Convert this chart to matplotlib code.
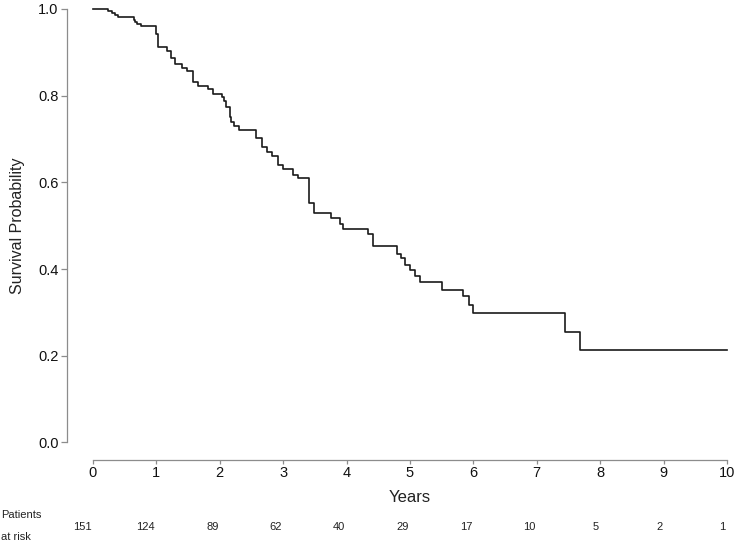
import matplotlib
matplotlib.use("Agg")
import matplotlib.pyplot as plt
import matplotlib.transforms as mtransforms

plt.rcParams['font.family'] = ['Liberation Sans', 'DejaVu Sans']

# Kaplan-Meier step curve
times = [0.0, 0.24, 0.30, 0.34, 0.40, 0.64, 0.67, 0.70, 0.75, 1.00, 1.03,
         1.16, 1.23, 1.30, 1.41, 1.48, 1.57, 1.66, 1.81, 1.90, 2.03, 2.07,
         2.10, 2.16, 2.18, 2.23, 2.31, 2.57, 2.66, 2.74, 2.82, 2.92, 3.00,
         3.16, 3.24, 3.41, 3.49, 3.75, 3.90, 3.95, 4.33, 4.41, 4.80, 4.86,
         4.92, 5.00, 5.08, 5.16, 5.50, 5.83, 5.93, 5.99, 7.44, 7.68, 10.0]
surv = [1.000, 0.995, 0.990, 0.985, 0.981, 0.975, 0.970, 0.965, 0.960, 0.943,
        0.912, 0.904, 0.888, 0.874, 0.864, 0.856, 0.832, 0.822, 0.815, 0.804,
        0.797, 0.787, 0.774, 0.751, 0.740, 0.731, 0.721, 0.702, 0.681, 0.671,
        0.660, 0.641, 0.631, 0.618, 0.610, 0.553, 0.530, 0.517, 0.505, 0.492,
        0.480, 0.453, 0.434, 0.425, 0.409, 0.398, 0.384, 0.371, 0.352, 0.337,
        0.317, 0.298, 0.256, 0.214, 0.214]

risk_years = [0, 1, 2, 3, 4, 5, 6, 7, 8, 9, 10]
at_risk = [151, 124, 89, 62, 40, 29, 17, 10, 5, 2, 1]
y_ticks = [0.0, 0.2, 0.4, 0.6, 0.8, 1.0]

fig = plt.figure(figsize=(7.38, 5.45), dpi=100)
ax = fig.add_axes([0.1260, 0.1881, 0.8591, 0.7954])

ax.step(times, surv, where='post', color='#1a1a1a', lw=1.2, clip_on=False)

ax.set_xlim(0, 10)
ax.set_ylim(0, 1)
ax.set_xticks(risk_years)
ax.set_yticks(y_ticks)
ax.set_yticklabels(["%.1f" % v for v in y_ticks])

grey = '#8c8c8c'
for s in ['top', 'right']:
    ax.spines[s].set_visible(False)
ax.spines['left'].set_position(('outward', 18.7))
ax.spines['bottom'].set_position(('outward', 12.6))
for s in ['left', 'bottom']:
    ax.spines[s].set_color(grey)
    ax.spines[s].set_linewidth(0.9)
ax.tick_params(axis='y', length=4, width=0.9, color=grey, pad=2,
               labelsize=10.5, labelcolor='#111111')
ax.tick_params(axis='x', length=2.6, width=0.9, color=grey, pad=2,
               labelsize=10.5, labelcolor='#111111')

ax.set_ylabel("Survival Probability", fontsize=11.5, color='#222222')
ax.yaxis.set_label_coords(-0.107, 0.5)
ax.set_xlabel("Years", fontsize=12, color='#222222', va='center')
ax.xaxis.set_label_coords(0.5, -0.126)

# number at risk table
trans = mtransforms.blended_transform_factory(ax.transData, ax.transAxes)
for yr, n in zip(risk_years, at_risk):
    ax.text(yr - 0.02, -0.194, str(n), transform=trans, ha='right',
            va='center', fontsize=8, color='#222222', clip_on=False)
fig.text(0.002, 1 - 515 / 545, "Patients", fontsize=8, va='center',
         color='#222222')
fig.text(0.002, 1 - 537 / 545, "at risk", fontsize=8, va='center',
         color='#222222')

fig.savefig("out.png", dpi=100)
